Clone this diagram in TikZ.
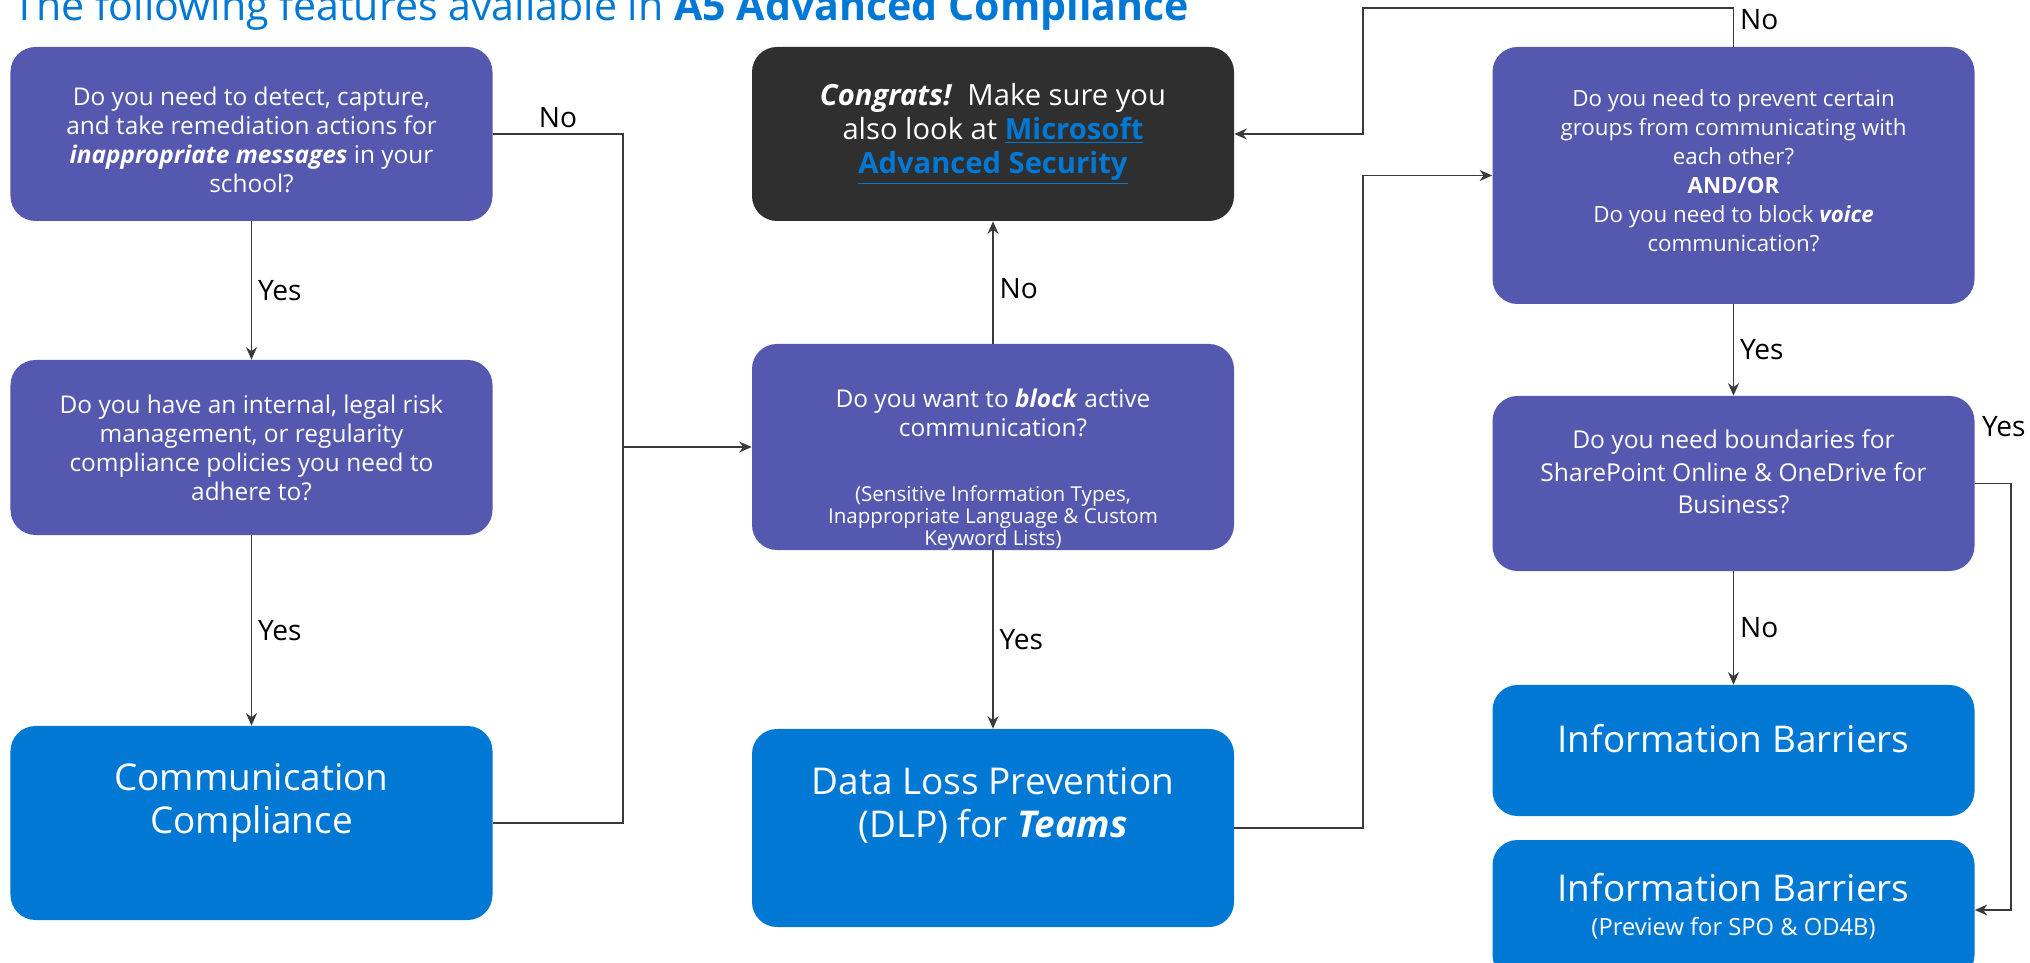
\documentclass[tikz,border=0pt]{standalone}
\usepackage{fontspec}
\setmainfont{Open Sans}
\usepackage{tikz}
\usetikzlibrary{arrows.meta,positioning}
\usepackage{xcolor}
\definecolor{moradoTeams}{HTML}{5558AF}
\definecolor{azulMS}{HTML}{0078D4}
\definecolor{grisCaja}{HTML}{2F2F2F}
\definecolor{grisLinea}{HTML}{3A3A3A}
\newcommand{\enlace}[1]{\textcolor{azulMS}{\bfseries\underline{#1}}}

\begin{document}
\begin{tikzpicture}[
    x=0.2mm, y=-0.2mm,
    caja/.style={rectangle, rounded corners=5mm, text=white, align=flush center,
                 text width=9.44cm, inner sep=1mm},
    pregunta/.style={caja, fill=moradoTeams, font=\fontsize{13.9}{16.5}\selectfont},
    felicita/.style={caja, fill=grisCaja, font=\fontsize{16.6}{19.3}\selectfont},
    producto/.style={caja, fill=azulMS, font=\fontsize{21}{24.2}\selectfont},
    titulo/.style={text=azulMS, font=\fontsize{23.4}{27}\selectfont, inner sep=0pt},
    etiqueta/.style={text=black, font=\fontsize{16}{19}\selectfont},
    linea/.style={thick, draw=grisLinea},
    flecha/.style={linea, -{Stealth[length=2.5mm, width=2.2mm]}}
  ]
  \useasboundingbox (0,0) rectangle (2030,963);

  \node[titulo, anchor=base west] (tit) at (13,21)
    {The following features available in \textbf{A5 Advanced Compliance}};

  % columna izquierda
  \node[pregunta, minimum height=3.48cm] (p1) at (251.5,134)
    {Do you need to detect, capture,\\ and take remediation actions for\\
     \textbf{\textit{inappropriate messages}} in your\\ school?\par\vspace*{-2.4mm}};
  \node[pregunta, minimum height=3.5cm] (p2) at (251.5,447.5)
    {Do you have an internal, legal risk\\ management, or regularity\\
     compliance policies you need to\\ adhere to?};
  \node[producto, minimum height=3.88cm] (cc) at (251.5,823)
    {Communication\\ Compliance\par\vspace*{8mm}};

  % columna central
  \node[felicita, minimum height=3.48cm] (ok) at (993,134)
    {\textbf{\textit{Congrats!}}\ \ Make sure you\\ also look at \enlace{Microsoft}\\
     \enlace{Advanced Security}};
  \node[pregunta, minimum height=4.12cm] (p3) at (993,447)
    {Do you want to \textbf{\textit{block}} active\\ communication?\par\vspace{0.93cm}
     {\fontsize{11.7}{10.3}\selectfont (Sensitive Information Types,\\
      Inappropriate Language \& Custom\\ Keyword Lists)\par}\vspace*{-9.2mm}};
  \node[producto, minimum height=3.96cm] (dlp) at (993,828)
    {Data Loss Prevention\\ (DLP) for \textbf{\textit{Teams}}\par\vspace*{9mm}};

  % columna derecha
  \node[pregunta, minimum height=5.14cm, font=\fontsize{12.7}{16.5}\selectfont] (p4) at (1733.5,175.5)
    {Do you need to prevent certain\\ groups from communicating with\\ each other?\\
     \textbf{AND/OR}\\ Do you need to block \textbf{\textit{voice}}\\ communication?\par\vspace*{2mm}};
  \node[pregunta, minimum height=3.5cm, font=\fontsize{14}{18.4}\selectfont] (p5) at (1733.5,483.5)
    {Do you need boundaries for\\ SharePoint Online \& OneDrive for\\ Business?\par\vspace*{4.6mm}};
  \node[producto, minimum height=2.62cm] (ib1) at (1733.5,750.5)
    {Information Barriers\par\vspace*{4.8mm}};
  \node[producto, minimum height=2.8cm] (ib2) at (1733.5,910)
    {Information Barriers\par\vspace{1.1mm}
     {\fontsize{13.5}{16}\selectfont (Preview for SPO \& OD4B)\par}\vspace*{1.6mm}};

  \coordinate (j1) at (623,447);
  \coordinate (j2) at (1363,175.5);
  \coordinate (j3) at (1363,8);
  \coordinate (j4) at (2011,910);

  \draw[flecha] (p1) -- node[etiqueta, right] (s1) {Yes} (p2);
  \draw[flecha] (p2) -- node[etiqueta, right] (s2) {Yes} (cc);
  \draw[linea] (p1.east) -| node[etiqueta, pos=0.25, above] (n1) {No} (j1);
  \draw[linea] (cc.east) -| (j1);
  \draw[flecha] (j1) -- (p3.west);
  \draw[flecha] (p3) -- node[etiqueta, right, pos=0.45] (n2) {No} (ok);
  \draw[flecha] (p3) -- node[etiqueta, right] (s3) {Yes} (dlp);
  \draw[flecha] (dlp.east) -| (j2) -- (p4.west);
  \draw[flecha] (p4.north) |- node[etiqueta, pos=0.35, right] (n3) {No} (j3) |- (ok.east);
  \draw[flecha] (p4) -- node[etiqueta, right] (s4) {Yes} (p5);
  \draw[flecha] (p5) -- node[etiqueta, right] (n4) {No} (ib1);
  \draw[flecha] (p5.east) -| node[etiqueta, pos=0.4, above=8mm] (s5) {Yes} (j4) -- (ib2.east);
\end{tikzpicture}
\end{document}
